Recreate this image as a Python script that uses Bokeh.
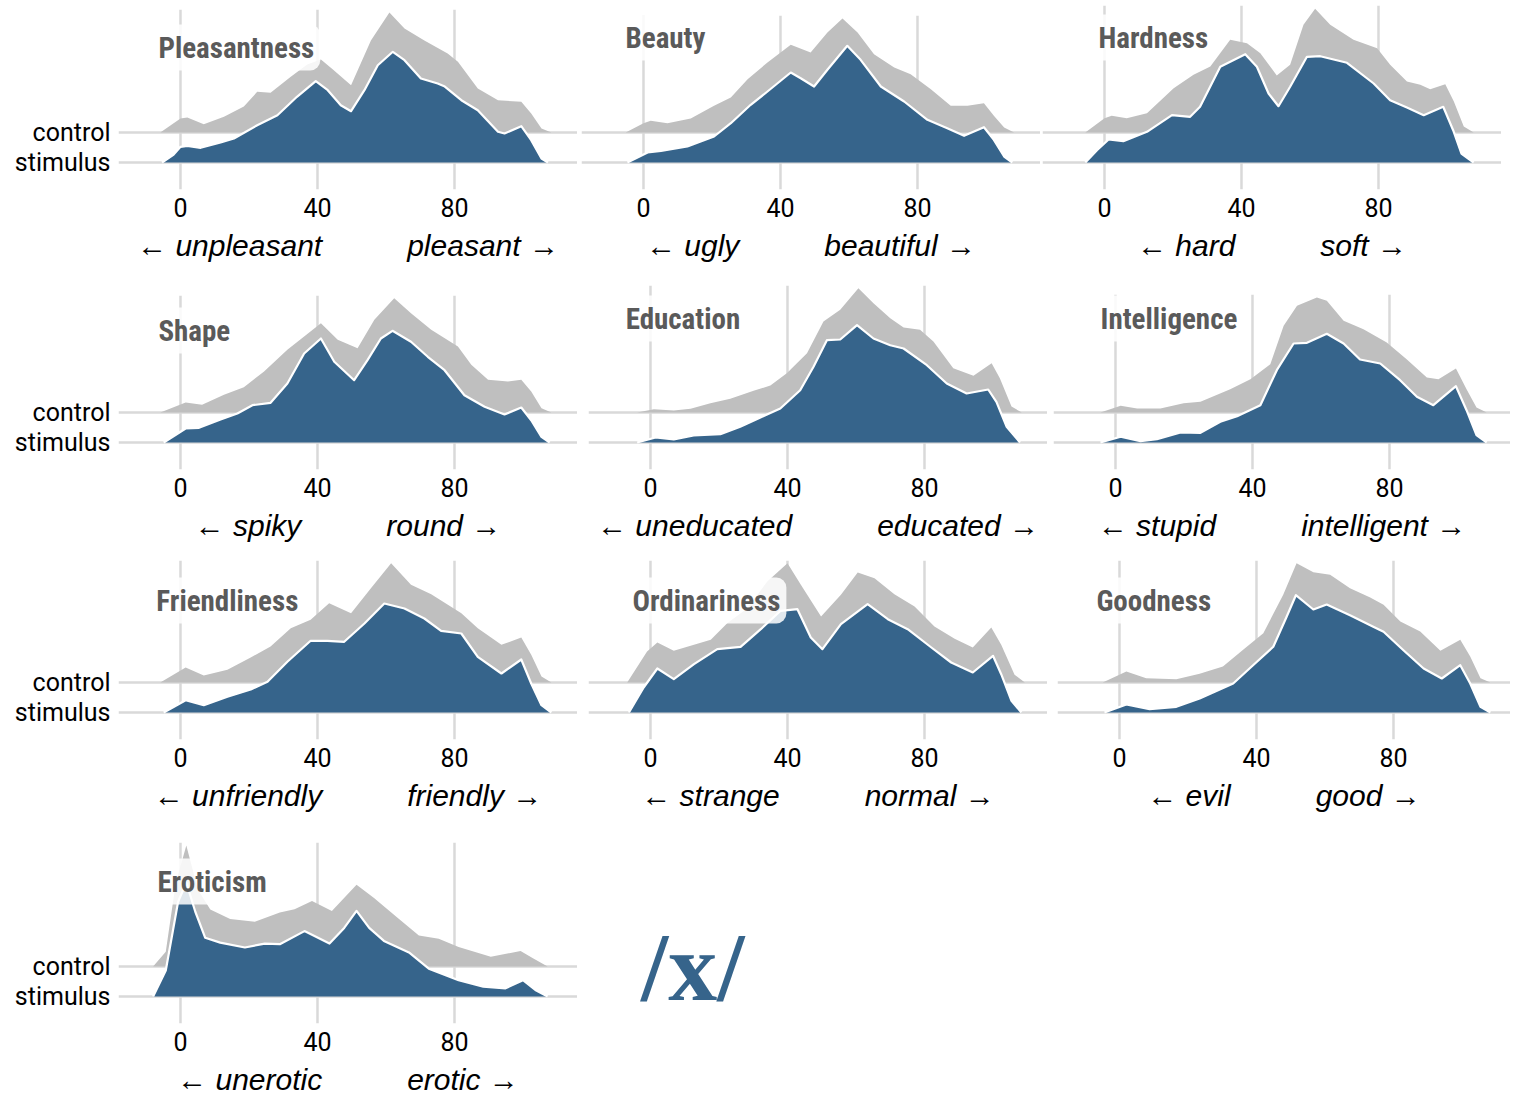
from bokeh.plotting import figure
from bokeh.layouts import column, row
from bokeh.models import Range1d, FixedTicker, Grid, Label, Spacer, Span, Div
from bokeh.embed import file_html
from bokeh.resources import INLINE

# ---------------- data (rating value, relative density height) ----------------
X_TICKS = [0, 40, 80]

PLEAS_CTRL_X = [-5.9, 0, 2, 6.8, 12.7, 18.5, 22.4, 26.3, 32.2, 37, 41, 44.5, 49.8, 55.6, 61, 65.4, 71.2, 78, 81, 86.8, 92.7, 99.5, 102.4, 105.4, 108.3]
PLEAS_CTRL_Y = [0, 14, 15, 8.3, 15.7, 26, 40.7, 39.7, 55.7, 68, 73, 63, 47.3, 92, 120, 104, 92, 79, 70.7, 44, 32.3, 30.7, 19, 4, 0]
PLEAS_STIM_X = [-5.4, -2, 0, 2, 5.9, 11.7, 15.6, 22.4, 28.3, 34, 39.5, 43, 46.8, 49.8, 53.7, 57.6, 62, 65.4, 70.2, 75.1, 77, 82, 86.8, 92.7, 94.6, 99.5, 102.4, 105.4, 107.3]
PLEAS_STIM_Y = [0, 8, 15.7, 16.7, 14.7, 20, 24, 37.3, 47.3, 65.7, 81.3, 72.3, 57.3, 51.3, 72.3, 97.3, 110.7, 102.3, 84, 79, 76.3, 62.3, 52.3, 30.7, 29, 36.3, 22.3, 4, 0]

BEAUTY_CTRL_X = [-5.2, 0, 2.1, 7, 13.8, 20.6, 25.5, 30.4, 36.2, 43, 48.8, 53.7, 58.1, 62.5, 67.3, 73.2, 78, 83.9, 89.7, 94.6, 99.4, 102.3, 105.3, 108.2]
BEAUTY_CTRL_Y = [0, 9.3, 11.7, 9.3, 14, 26.7, 35, 53.3, 70, 87.7, 80, 100, 114, 100, 78.3, 65, 58.3, 43.3, 26.7, 26.7, 29.3, 16.7, 5, 0]
BEAUTY_STIM_X = [-4.7, 1.2, 5.1, 12.8, 20.6, 25.5, 31.3, 36.2, 43, 45.9, 49.8, 53.7, 59.5, 63.4, 69.3, 76.1, 82.9, 88.7, 93.6, 99.4, 102.3, 105.3, 107.7]
BEAUTY_STIM_Y = [0, 10, 11.7, 16, 26, 39.3, 57.7, 71, 90, 84.3, 76, 92.7, 116.7, 102.7, 76, 61, 42.7, 34.3, 26.7, 35.3, 22.7, 6, 0]

HARD_CTRL_X = [-5.6, 0, 2.1, 6.5, 12.4, 20.2, 26, 30.9, 36.7, 41.6, 45.5, 50.3, 54.2, 58.1, 61.5, 65.9, 72.7, 79.6, 83.4, 88.3, 92.2, 95.1, 99.5, 102, 104.9, 107.8]
HARD_CTRL_Y = [0, 14.3, 16.7, 14.3, 19.3, 44.3, 57.7, 66, 92.7, 89.3, 79.3, 57, 67.7, 107.7, 123.7, 107.7, 92.7, 84.3, 67.7, 51, 47.7, 43.3, 48.3, 31, 6, 0]
HARD_STIM_X = [-5.6, -2.2, 1.2, 5.5, 12.4, 19.7, 25, 27.9, 33.8, 41.1, 44.5, 47.9, 50.8, 54.2, 59.1, 63, 70.8, 78.6, 83.4, 88.3, 93.2, 98.9, 101.8, 104.2, 107.8]
HARD_STIM_Y = [0, 12.3, 23, 21.3, 30.7, 47.3, 45.7, 55.7, 95.7, 108.3, 95.7, 69, 56.3, 75.7, 105.7, 106.3, 99.7, 79, 62.3, 55, 47.3, 55.7, 32.3, 9, 0]

SHAPE_CTRL_X = [-5.9, 1.5, 6.3, 12.7, 18.5, 24.4, 31.2, 36.1, 41, 45.9, 51.7, 56.6, 62.4, 67.3, 73.2, 81, 84.9, 89.8, 95.6, 99.5, 102.4, 105.4, 108.3]
SHAPE_CTRL_Y = [0, 10, 7.7, 17.7, 25.3, 41, 62.7, 76, 89.3, 72.7, 64.3, 92.7, 114.3, 99.3, 82.7, 66, 47.7, 32.7, 31, 32.7, 21, 4.3, 0]
SHAPE_STIM_X = [-4.9, 1.5, 5.4, 11.7, 16.6, 21, 26.3, 31.2, 36.1, 41, 44.9, 50.7, 54.6, 58.5, 61.9, 67.3, 72.2, 77.1, 82.9, 88.8, 94.6, 99.5, 102.4, 105.4, 107.8]
SHAPE_STIM_Y = [0, 14, 14.7, 23, 29, 37.3, 39.7, 59, 89, 104, 80.7, 62.3, 82.3, 104, 111.7, 100.7, 85.7, 72.3, 47.3, 35.7, 28, 35, 22.3, 5.7, 0]

EDU_CTRL_X = [-3.9, 1, 6.8, 11.7, 17.5, 23.3, 30.1, 35, 39.8, 45.7, 50.5, 55.4, 60.7, 65.1, 70, 73.9, 78.7, 82.6, 88.4, 94.3, 99.6, 102, 105.4, 108.4]
EDU_CTRL_Y = [0, 3.3, 2, 3.7, 9.3, 13.7, 21.7, 27, 39.3, 59.3, 91, 102.7, 124.3, 109.3, 94.3, 85, 82.7, 71, 44.3, 36.7, 49.3, 34.3, 6, 0]
EDU_STIM_X = [-3.9, 1.5, 6.8, 12.6, 20.4, 26.2, 32.1, 37.9, 43.7, 47.6, 51.5, 55.4, 60.3, 65.1, 70, 73.9, 80.7, 86.5, 92.3, 98.6, 101, 104, 107.9]
EDU_STIM_Y = [0, 5, 3, 7, 8.3, 15.7, 25, 34, 52.3, 75.7, 102.3, 103, 117.3, 104, 97.3, 94, 77.3, 59, 49, 53, 40.7, 15.7, 0]

INTEL_CTRL_X = [-4.4, 1.5, 6.3, 13.1, 19.9, 24.8, 33.5, 39.4, 45.2, 49.1, 53, 58.8, 61.7, 66.6, 72.4, 79.2, 85, 90.9, 94.3, 99.4, 102.5, 105.4, 108.4]
INTEL_CTRL_Y = [0, 6.7, 4, 4, 9.3, 10.7, 23.3, 33.3, 48.3, 86.7, 106.7, 115, 111.7, 91.7, 83.3, 70, 53.3, 35, 33.3, 44, 23.3, 5, 0]
INTEL_STIM_X = [-4.4, 1.5, 7.3, 12.1, 19, 24.8, 30.6, 35.5, 42.3, 47.1, 52, 55.9, 61.7, 66.6, 71.4, 77.3, 83.1, 88, 92.8, 99.4, 102.5, 105.4, 108.4]
INTEL_STIM_Y = [0, 5.7, 1.3, 3.3, 10, 9.7, 20.7, 26.3, 37.3, 72.3, 99, 99.7, 108.7, 99, 83, 79, 62.3, 45.7, 37.3, 56.3, 32.3, 7.3, 0]

FRIEND_CTRL_X = [-5.9, 1.5, 6.8, 13.7, 20.5, 26.3, 32.2, 38, 43.4, 49.8, 55.6, 61.5, 67.3, 73.2, 82, 86.8, 93.7, 99.5, 102.4, 105.4, 108.3]
FRIEND_CTRL_Y = [0, 15, 7, 12.7, 25, 36, 54.3, 62.7, 79.3, 69.3, 94.3, 119.3, 97.7, 88.3, 69.3, 54.3, 37.7, 45, 27.7, 6, 0]
FRIEND_STIM_X = [-4.9, 1.5, 6.8, 13.7, 20.5, 25.4, 31.2, 38, 42.9, 47.8, 53.7, 59.5, 65.4, 71.2, 76.1, 82, 86.8, 93.7, 99.5, 102.4, 105.4, 108.3]
FRIEND_STIM_Y = [0, 12.3, 7.3, 15.7, 23, 30.7, 50.7, 71.7, 71.7, 70.7, 89, 109, 104, 94, 81.7, 79, 55.7, 39, 53, 29, 7.3, 0]

ORD_CTRL_X = [-6.8, -1, 2, 6.8, 12.7, 17.6, 22.4, 28.3, 34.1, 40, 43.9, 49.8, 55.6, 60.5, 65.4, 71.2, 77.1, 82.9, 88.8, 94.1, 99.5, 102.4, 106.3, 109.3]
ORD_CTRL_Y = [0, 31, 40, 31.7, 37.7, 42.7, 59.3, 74.3, 101, 119.3, 97.7, 66, 87.7, 110, 104.3, 88.3, 76, 56, 43.7, 35, 55, 37.7, 7.7, 0]
ORD_STIM_X = [-6.3, -2, 2, 6.8, 12.7, 19.5, 26.3, 32.2, 38, 42.9, 46.8, 50.2, 55.6, 63.4, 69.3, 75.1, 82, 87.8, 94.1, 100, 102.4, 105.4, 108.3]
ORD_STIM_Y = [0, 25, 44, 33.3, 48.3, 63.3, 65.7, 83.3, 101.7, 103.3, 75, 63.3, 88.3, 108.3, 93.3, 83.3, 65, 50, 40, 56.7, 38.3, 11.7, 0]

GOOD_CTRL_X = [-4.9, 2, 7.8, 16.6, 23.4, 30.2, 36.1, 42, 47.8, 51.7, 56.6, 61.5, 67.3, 73.2, 77.1, 82, 87.8, 93.7, 99.5, 102.4, 105.4, 108.3]
GOOD_CTRL_Y = [0, 11, 4.3, 3.3, 8.7, 16, 32.7, 49.3, 87.7, 119.3, 110.3, 107.7, 94.3, 85, 77.7, 61, 51, 31.7, 42.7, 26, 4.3, 0]
GOOD_STIM_X = [-4.4, 2, 8.8, 16.6, 23.4, 33.2, 39, 44.9, 48.8, 51.5, 56.6, 60.5, 67.3, 74.1, 77.1, 82.9, 88.8, 94.1, 99.5, 102.4, 105.4, 108.3]
GOOD_STIM_Y = [0, 8, 3.3, 5.7, 14, 29, 47.3, 65.7, 95.7, 117.3, 103, 108, 97.3, 85.7, 80.7, 62.3, 44, 34, 47.3, 29, 5.7, 0]

EROT_CTRL_X = [-8, -4.3, -1.4, 1.7, 5.1, 8.7, 14.5, 21.7, 29, 33.3, 38.4, 44.2, 51.4, 56.5, 63.8, 69.6, 75.4, 81.2, 90.6, 99.3, 102.9, 107.2]
EROT_CTRL_Y = [0, 14.7, 83, 121, 76.8, 57, 47.4, 44.8, 53.9, 57.2, 65.4, 55.6, 81.7, 68.6, 47.4, 31, 27.8, 19.6, 9.8, 15.4, 8.2, 0]
EROT_STIM_X = [-8, -4.3, -0.7, 1.7, 4.3, 7.2, 11.6, 18.8, 24.6, 29, 36.2, 43.5, 47.8, 51.4, 55.1, 59.4, 66.7, 72.5, 81.2, 88.4, 94.9, 100, 103.6, 107.2]
EROT_STIM_Y = [0, 26, 94.8, 114, 85, 58.8, 53.9, 49, 52.9, 52.3, 65.4, 52.9, 68.6, 85.6, 68.6, 55.6, 44.1, 27.8, 16.3, 9.8, 8.2, 16.3, 6.5, 0]

TITLES = ["Pleasantness", "Beauty", "Hardness", "Shape", "Education", "Intelligence",
          "Friendliness", "Ordinariness", "Goodness", "Eroticism"]
LEFT_LABELS = ["unpleasant", "ugly", "hard", "spiky", "uneducated", "stupid",
               "unfriendly", "strange", "evil", "unerotic"]
RIGHT_LABELS = ["pleasant", "beautiful", "soft", "round", "educated", "intelligent",
                "friendly", "normal", "good", "erotic"]
CONTROL_LABEL = "control"
STIMULUS_LABEL = "stimulus"
LOGO_TEXT = "/x/"

SERIES = [
    (PLEAS_CTRL_X, PLEAS_CTRL_Y, PLEAS_STIM_X, PLEAS_STIM_Y),
    (BEAUTY_CTRL_X, BEAUTY_CTRL_Y, BEAUTY_STIM_X, BEAUTY_STIM_Y),
    (HARD_CTRL_X, HARD_CTRL_Y, HARD_STIM_X, HARD_STIM_Y),
    (SHAPE_CTRL_X, SHAPE_CTRL_Y, SHAPE_STIM_X, SHAPE_STIM_Y),
    (EDU_CTRL_X, EDU_CTRL_Y, EDU_STIM_X, EDU_STIM_Y),
    (INTEL_CTRL_X, INTEL_CTRL_Y, INTEL_STIM_X, INTEL_STIM_Y),
    (FRIEND_CTRL_X, FRIEND_CTRL_Y, FRIEND_STIM_X, FRIEND_STIM_Y),
    (ORD_CTRL_X, ORD_CTRL_Y, ORD_STIM_X, ORD_STIM_Y),
    (GOOD_CTRL_X, GOOD_CTRL_Y, GOOD_STIM_X, GOOD_STIM_Y),
    (EROT_CTRL_X, EROT_CTRL_Y, EROT_STIM_X, EROT_STIM_Y),
]

# ---------------- layout & style ----------------
BLUE = "#36648B"
GRAY = "#BFBFBF"
GRIDC = "#D9D9D9"
TITLEC = "#5A5A5A"
TITLE_FONT = "Roboto Condensed, Open Sans Condensed, Liberation Sans Narrow, Roboto"
PX = 3.425          # pixels per rating unit
X_START = -18.1
OFFSET = 30         # control ridge baseline above stimulus baseline
BELOW = 27          # frame space below stimulus baseline
GAP = "\u2003\u2003\u2002\u2004"

# rows: (canvas top, canvas bottom, stimulus baseline) in page px
ROWS = [(0, 278, 162), (278, 548, 442), (548, 822, 712), (822, 1103, 996)]
# per panel: (row, min_border_left, frame_width, title_x, title_y)
PANEL_LAYOUT = [
    (0, 118, 459, -8.2, 115), (0, 4, 459, -7.0, 125), (0, 2, 459, -3.5, 125),
    (1, 118, 459, -8.2, 112), (1, 11, 459, -9.0, 124), (1, 6, 457, -6.1, 124),
    (2, 118, 459, -8.8, 112), (2, 11, 459, -7.0, 112), (2, 10, 453, -8.5, 112),
    (3, 118, 459, -8.5, 115),
]


def make_panel(i):
    cx, cy, sx, sy = SERIES[i]
    r, mbl, fw, tx, ty = PANEL_LAYOUT[i]
    ctop, cbot, stim = ROWS[r]
    end = int(round(max(cy) + OFFSET + 3))
    end = min(end, stim - ctop)
    fh = end + BELOW
    top_space = stim - end - ctop
    mbb = cbot - (stim + BELOW)
    show_y = (mbl > 50)
    p = figure(title=None, frame_width=fw, frame_height=fh,
               x_range=Range1d(X_START, X_START + fw / PX),
               y_range=Range1d(-BELOW, end),
               min_border_left=mbl, min_border_right=0,
               min_border_top=0, min_border_bottom=mbb,
               x_axis_location="below",
               y_axis_location="left",
               output_backend="svg", toolbar_location=None, tools="")
    p.outline_line_color = None
    p.background_fill_color = "white"
    p.border_fill_color = "white"
    p.center = [c for c in p.center if not isinstance(c, Grid)]
    # vertical reference lines at the x ticks and the two ridge baselines
    for t in X_TICKS:
        p.add_layout(Span(location=t, dimension="height", line_color=GRIDC,
                          line_width=2.5, level="underlay"))
    for b in (0, OFFSET):
        p.add_layout(Span(location=b, dimension="width", line_color=GRIDC,
                          line_width=2.5, level="underlay"))

    ax = p.xaxis[0]
    ax.ticker = FixedTicker(ticks=X_TICKS)
    ax.axis_line_color = None
    ax.major_tick_line_color = None
    ax.minor_tick_line_color = None
    ax.major_tick_out = 0
    ax.major_tick_in = 0
    ax.minor_tick_out = 0
    ax.minor_tick_in = 0
    ax.major_label_text_font = "Roboto"
    ax.major_label_text_font_size = "25px"
    ax.major_label_text_color = "black"
    ax.major_label_standoff = 8
    ax.axis_label = "\u2190 " + LEFT_LABELS[i] + GAP + RIGHT_LABELS[i] + " \u2192"
    ax.axis_label_text_font = "Liberation Sans, DejaVu Sans"
    ax.axis_label_text_font_style = "italic"
    ax.axis_label_text_font_size = "30px"
    ax.axis_label_text_color = "black"
    ax.axis_label_standoff = 9

    ay = p.yaxis[0]
    if show_y:
        ay.ticker = FixedTicker(ticks=[0, OFFSET])
        ay.major_label_overrides = {0: STIMULUS_LABEL, OFFSET: CONTROL_LABEL}
        ay.axis_line_color = None
        ay.major_tick_line_color = None
        ay.minor_tick_line_color = None
        ay.major_tick_out = 0
        ay.major_tick_in = 0
        ay.minor_tick_out = 0
        ay.minor_tick_in = 0
        ay.major_label_text_font = "Roboto"
        ay.major_label_text_font_size = "25px"
        ay.major_label_text_color = "black"
        ay.major_label_standoff = 8
    else:
        p.left = []

    p.varea(x=cx, y1=[OFFSET] * len(cx), y2=[OFFSET + v for v in cy],
            fill_color=GRAY, fill_alpha=1.0)
    p.varea(x=sx, y1=[0] * len(sx), y2=sy, fill_color=BLUE, fill_alpha=1.0)
    p.line(x=sx, y=sy, line_color="white", line_width=2.2, line_join="round")

    p.add_layout(Label(x=tx, y=ty, text=TITLES[i],
                       text_font=TITLE_FONT,
                       text_font_style="bold", text_font_size="29px",
                       text_color=TITLEC, text_baseline="middle", text_align="left",
                       background_fill_color="white", background_fill_alpha=0.85,
                       padding=6, border_radius=10))
    if top_space > 0:
        return column(Spacer(height=top_space), p)
    return p


panels = [make_panel(i) for i in range(len(SERIES))]

logo = Div(text=LOGO_TEXT, width=130, height=110,
           styles={"font-family": "Liberation Serif", "font-weight": "bold",
                   "font-size": "98px", "line-height": "100px", "color": BLUE,
                   "margin": "0", "padding": "0"})

layout = column(
    row(panels[0], panels[1], panels[2]),
    row(panels[3], panels[4], panels[5]),
    row(panels[6], panels[7], panels[8]),
    row(panels[9], Spacer(width=64), column(Spacer(height=95), logo)),
)

open("out.html", "w").write(file_html(layout, INLINE))
